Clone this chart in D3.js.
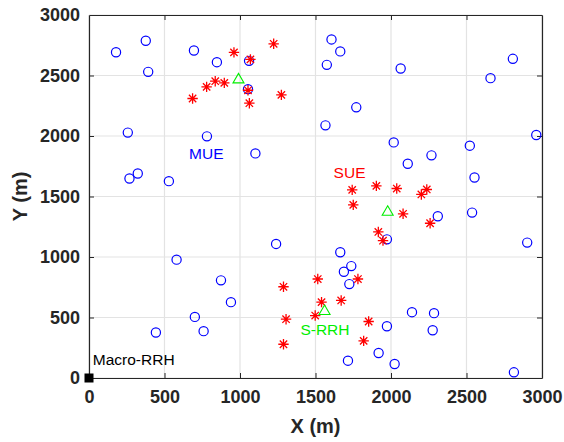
<!DOCTYPE html>
<html><head><meta charset="utf-8">
<script src="https://cdn.jsdelivr.net/npm/d3@7"></script>
<style>body{margin:0;background:#fff}svg{display:block}</style>
</head><body>
<svg id="c" width="564" height="442"></svg>
<script>
const xTicks = [0,500,1000,1500,2000,2500,3000];
const yTicks = [0,500,1000,1500,2000,2500,3000];
const mueX = [179,376,392,695,847,1060,1053,257,781,1102,323,268,529,
  1606,1664,1575,2064,2807,2659,1770,1566,2962,2018,2522,2268,2111,2553,
  2310,2537,2902,1973,1664,1737,1688,1724,2139,2285,1973,2276,1918,1715,2024,2814,
  1239,580,874,940,701,759,443];
const mueY = [2692,2787,2530,2707,2610,2621,2387,2028,1997,1856,1690,1649,1627,
  2798,2699,2588,2558,2638,2478,2237,2088,2008,1947,1920,1840,1771,1657,
  1337,1367,1119,1146,1039,925,878,776,544,536,428,395,207,143,116,47,
  1108,978,807,627,505,387,376];
const sueX = [960,1069,1223,836,896,779,686,1053,1062,1274,
  1743,1903,2038,2237,2201,1750,2080,2259,1916,1947,
  1515,1781,1540,1670,1498,1852,1819,1288,1305,1288];
const sueY = [2691,2633,2762,2453,2439,2406,2310,2378,2271,2340,
  1555,1588,1566,1558,1517,1431,1357,1279,1207,1135,
  818,818,627,641,516,467,307,754,486,279];
const srrhX = [990,1978,1560];
const srrhY = [2472,1378,558];
const macroX = [0];
const macroY = [0];
const labels = [
  {t:"MUE", x:663, y:1856, c:"#0000ff"},
  {t:"SUE", x:1620, y:1701, c:"#ff0000"},
  {t:"S-RRH", x:1400, y:403, c:"#00ee00"},
  {t:"Macro-RRH", x:25, y:149, c:"#000000"}
];

const svg = d3.select("#c");
const L=89, R=542, T=15, B=378;
const x = d3.scaleLinear().domain([0,3000]).range([L,R]);
const y = d3.scaleLinear().domain([0,3000]).range([B,T]);
const font = "'Liberation Sans', Arial, Helvetica, sans-serif";
const dark = "#262626";
const fmt = d3.format("d");

// grid
const g = svg.append("g");
g.selectAll(".gx").data(xTicks).enter().append("line")
  .attr("x1",d=>x(d)).attr("x2",d=>x(d)).attr("y1",T).attr("y2",B)
  .attr("stroke","#e3e3e3").attr("stroke-width",1.2);
g.selectAll(".gy").data(yTicks).enter().append("line")
  .attr("y1",d=>y(d)).attr("y2",d=>y(d)).attr("x1",L).attr("x2",R)
  .attr("stroke","#e3e3e3").attr("stroke-width",1.2);

// axes
const ax = svg.append("g").attr("transform",`translate(0,${B})`)
  .call(d3.axisBottom(x).tickValues(xTicks).tickFormat(fmt).tickSize(-5).tickPadding(12).tickSizeOuter(0));
const axT = svg.append("g").attr("transform",`translate(0,${T})`)
  .call(d3.axisTop(x).tickValues(xTicks).tickSize(-5).tickFormat("").tickSizeOuter(0));
const ay = svg.append("g").attr("transform",`translate(${L},0)`)
  .call(d3.axisLeft(y).tickValues(yTicks).tickFormat(fmt).tickSize(-5).tickPadding(9).tickSizeOuter(0));
const ayR = svg.append("g").attr("transform",`translate(${R},0)`)
  .call(d3.axisRight(y).tickValues(yTicks).tickSize(-5).tickFormat("").tickSizeOuter(0));
[ax,axT,ay,ayR].forEach(a=>{
  a.attr("font-size",null);
  a.select(".domain").attr("stroke",dark).attr("stroke-width",1.2);
  a.selectAll(".tick line").attr("stroke",dark).attr("stroke-width",1);
  a.selectAll("text").attr("font-family",font).style("font-size","18px")
    .attr("font-weight","bold").attr("fill",dark);
});
[ax,axT,ay,ayR].forEach(a=>a.selectAll(".tick line").filter(d=>d===0||d===3000).remove());

// axis labels
svg.append("text").attr("x",(L+R)/2).attr("y",433).attr("text-anchor","middle")
  .attr("font-family",font).style("font-size","20px").attr("font-weight","bold").attr("fill",dark)
  .text("X (m)");
svg.append("text").attr("transform",`translate(27,${(T+B)/2}) rotate(-90)`).attr("text-anchor","middle")
  .attr("font-family",font).style("font-size","20px").attr("font-weight","bold").attr("fill",dark)
  .text("Y (m)");

const plot = svg.append("g");
// MUE circles
plot.selectAll(".mue").data(mueX.map((v,i)=>[v,mueY[i]])).enter().append("circle")
  .attr("cx",d=>x(d[0])).attr("cy",d=>y(d[1])).attr("r",4.6)
  .attr("fill","none").attr("stroke","#0000ff").attr("stroke-width",1.2);
// SUE asterisks
const star = d3.symbol().type({draw(ctx,size){
  const r=5.2;
  for(let k=0;k<4;k++){const a=k*Math.PI/4;
    ctx.moveTo(-r*Math.cos(a),-r*Math.sin(a)); ctx.lineTo(r*Math.cos(a),r*Math.sin(a));}
}}).size(1);
plot.selectAll(".sue").data(sueX.map((v,i)=>[v,sueY[i]])).enter().append("path")
  .attr("transform",d=>`translate(${x(d[0])},${y(d[1])})`).attr("d",star)
  .attr("fill","none").attr("stroke","#ff0000").attr("stroke-width",1.3);
// S-RRH triangles
plot.selectAll(".srrh").data(srrhX.map((v,i)=>[v,srrhY[i]])).enter().append("path")
  .attr("transform",d=>`translate(${x(d[0])},${y(d[1])})`)
  .attr("d","M0,-5.5L5.5,4L-5.5,4Z")
  .attr("fill","none").attr("stroke","#00ee00").attr("stroke-width",1.1);
// Macro
plot.selectAll(".mac").data(macroX.map((v,i)=>[v,macroY[i]])).enter().append("rect")
  .attr("x",d=>x(d[0])-4.5).attr("y",d=>y(d[1])-4.5).attr("width",9).attr("height",9)
  .attr("fill","#000");

// labels
plot.selectAll(".lab").data(labels).enter().append("text")
  .attr("x",d=>x(d.x)).attr("y",d=>y(d.y)).attr("dy","0.35em")
  .attr("font-family",font).style("font-size","15.5px").attr("fill",d=>d.c).text(d=>d.t);
</script>
</body></html>
